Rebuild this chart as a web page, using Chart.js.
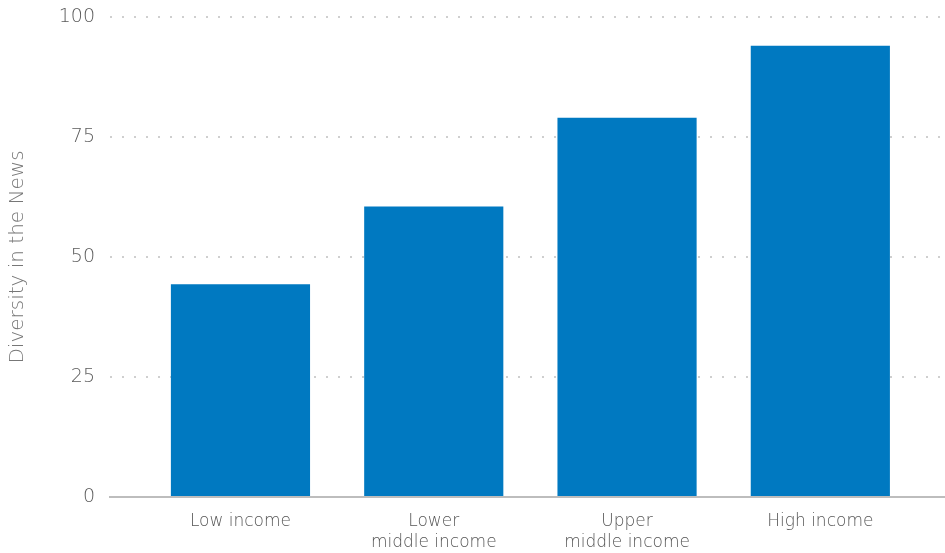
<!DOCTYPE html>
<html>
<head>
<meta charset="utf-8">
<title>Diversity in the News by income group</title>
<script src="https://cdn.jsdelivr.net/npm/chart.js@4/dist/chart.umd.min.js"></script>
<style>
  html, body { margin: 0; padding: 0; background: #fff; }
  #wrap { width: 945px; height: 553px; position: relative; }
</style>
</head>
<body>
<div id="wrap"><canvas id="chart"></canvas></div>
<script>
// Income groups (multi-line labels) and their scores
const categories = [
  ['Low income'],
  ['Lower', 'middle income'],
  ['Upper', 'middle income'],
  ['High income']
];
const scores = [44.3, 60.5, 79.0, 94.0];
const yTicks = [0, 25, 50, 75, 100];

const FONT = '"DejaVu Sans", sans-serif';
const BAR_BLUE = '#0079c1';

new Chart(document.getElementById('chart'), {
  type: 'bar',
  data: {
    datasets: [{
      label: 'Diversity in the News',
      data: scores.map((v, i) => ({ x: i, y: v })),
      backgroundColor: BAR_BLUE,
      borderWidth: 0,
      categoryPercentage: 0.8,
      barPercentage: 0.9
    }]
  },
  options: {
    responsive: true,
    maintainAspectRatio: false,
    animation: false,
    layout: { padding: { top: 17, right: 0, bottom: 0, left: 0 } },
    plugins: {
      legend: { display: false },
      tooltip: { enabled: false }
    },
    scales: {
      x: {
        type: 'linear',
        offset: false,
        min: -0.675,
        max: 3.645,
        afterFit: (scale) => { scale.height = 56; },
        grid: { display: false, drawTicks: false, offset: false },
        border: { display: true, color: '#bdbdbd', width: 2 },
        ticks: {
          stepSize: 1,
          includeBounds: false,
          autoSkip: false,
          maxRotation: 0,
          padding: 14,
          color: '#555555',
          font: { family: FONT, size: 17, weight: 200, lineHeight: 1.25 },
          callback: (v) => Number.isInteger(v) && categories[v] ? categories[v] : ''
        }
      },
      y: {
        min: 0,
        max: 100,
        afterFit: (scale) => {
          scale.width = 110;
          scale.paddingTop = 0;
          scale.paddingBottom = 0;
        },
        afterBuildTicks: (scale) => { scale.ticks = yTicks.map(v => ({ value: v })); },
        grid: {
          drawTicks: false,
          color: '#cfcfcf',
          lineWidth: 2
        },
        border: { display: false, dash: [2, 10] },
        ticks: {
          padding: 15,
          color: '#5a5a5a',
          font: { family: FONT, size: 19, weight: 200 }
        },
        title: {
          display: true,
          text: 'Diversity in the News',
          color: '#777777',
          padding: { top: 6, bottom: 0 },
          font: { family: FONT, size: 20, weight: 200 }
        }
      }
    }
  }
});
</script>
</body>
</html>
